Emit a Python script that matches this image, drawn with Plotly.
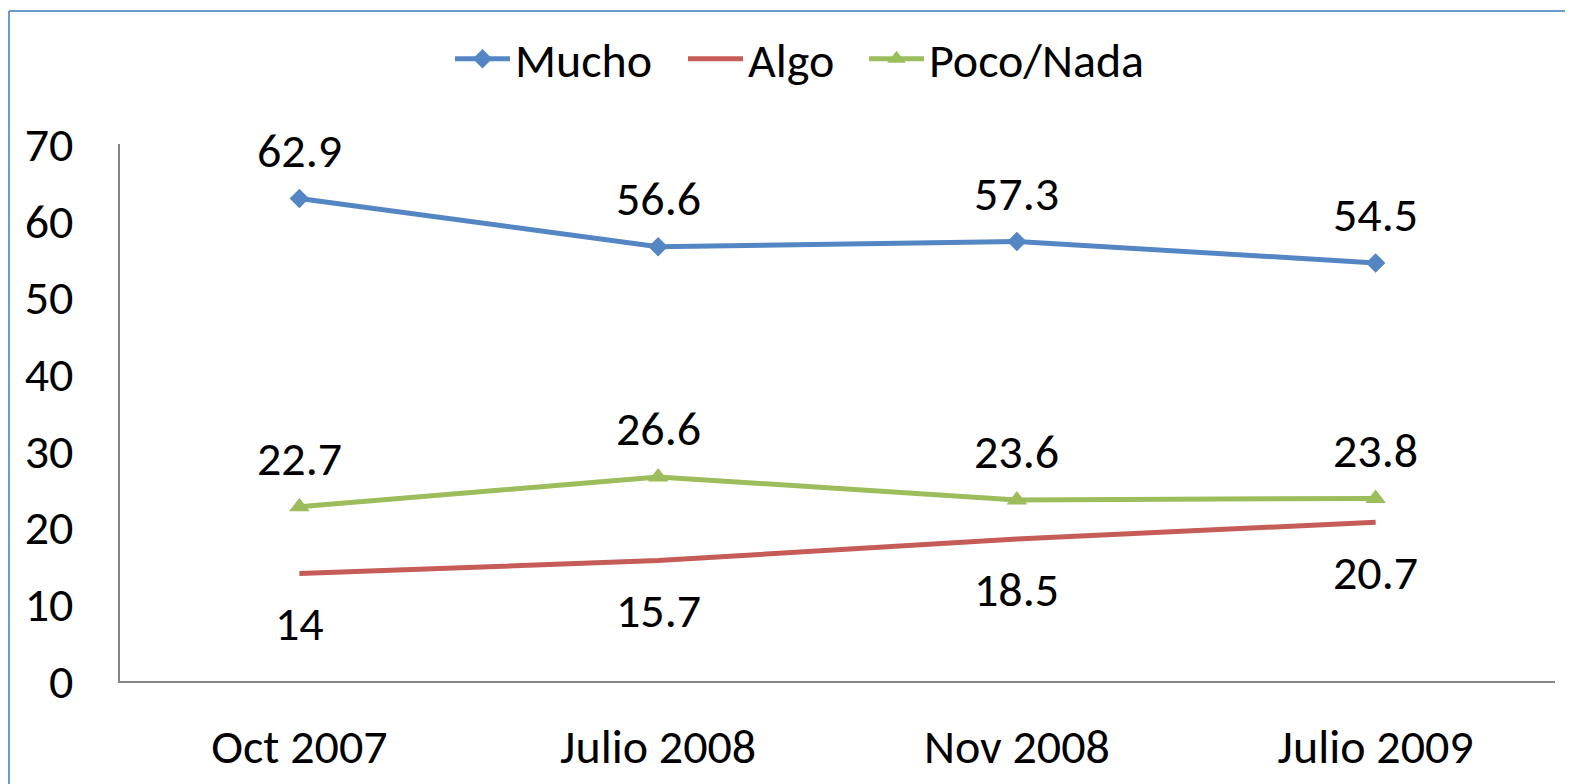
import plotly.graph_objects as go

categories = ["Oct 2007", "Julio 2008", "Nov 2008", "Julio 2009"]
mucho = [62.9, 56.6, 57.3, 54.5]
algo = [14, 15.7, 18.5, 20.7]
poco_nada = [22.7, 26.6, 23.6, 23.8]
y_ticks = [0, 10, 20, 30, 40, 50, 60, 70]

FONT = "Carlito, Lato, Calibri, sans-serif"
FS = 48
BLUE = "#5586C4"
RED = "#C65C57"
GREEN = "#9CBD5C"

# page body has an 8px margin; work in figure coordinates = screen - 8
OFF = 8
W, H = 1573 - 2 * OFF, 784 - OFF
L = 120 - OFF
T = 144 - OFF
AXIS_Y = 681 - OFF
RIGHT = 1555 - OFF
R = W - RIGHT
B = H - AXIS_Y
pw, ph = W - L - R, H - T - B

def px_x(x):
    return (x - OFF - L) / pw

def px_y(y):
    return (H - B - (y - OFF)) / ph

fig = go.Figure()
fig.add_trace(go.Scatter(x=categories, y=mucho, name="Mucho", mode="lines+markers",
                         line=dict(color=BLUE, width=5), legend="legend",
                         marker=dict(symbol="diamond", size=15, color=BLUE)))
fig.add_trace(go.Scatter(x=categories, y=algo, name="Algo", mode="lines",
                         line=dict(color=RED, width=5), legend="legend2"))
fig.add_trace(go.Scatter(x=categories, y=poco_nada, name="Poco/Nada", mode="lines+markers",
                         line=dict(color=GREEN, width=5), legend="legend3",
                         marker=dict(symbol="triangle-up", size=18, color=GREEN)))

annotations = []
for series, shift in ((mucho, 48), (poco_nada, 48), (algo, -50)):
    for c, v in zip(categories, series):
        annotations.append(dict(x=c, y=v, xref="x", yref="y", text=f"{v:g}",
                                showarrow=False, yshift=shift,
                                font=dict(family=FONT, size=FS, color="black")))

def leg(sx):
    return dict(orientation="h", xref="container", yref="container",
                x=(sx - OFF - 5) / W, xanchor="left",
                y=1 - (63 - OFF - 4) / H, yanchor="middle",
                font=dict(family=FONT, size=FS), itemwidth=55,
                bgcolor="rgba(0,0,0,0)")

border = dict(color="#6A9AD0", width=2)
fig.update_layout(
    width=W, height=H,
    margin=dict(l=L, r=R, t=T, b=B, autoexpand=False),
    paper_bgcolor="white", plot_bgcolor="white",
    font=dict(family=FONT, size=FS, color="black"),
    showlegend=True,
    legend=leg(455), legend2=leg(688), legend3=leg(869),
    annotations=annotations,
    shapes=[
        dict(type="line", xref="paper", yref="paper",
             x0=px_x(9), x1=px_x(1573), y0=px_y(11), y1=px_y(11), line=border),
        dict(type="line", xref="paper", yref="paper",
             x0=px_x(9), x1=px_x(9), y0=px_y(11), y1=px_y(784), line=border),
    ],
)
fig.update_xaxes(type="category", range=[-0.5, 3.5], showgrid=False, zeroline=False,
                 showline=True, linecolor="#868686", linewidth=2, ticks="",
                 automargin=False,
                 ticklabelstandoff=22, tickfont=dict(family=FONT, size=FS))
fig.update_yaxes(range=[0, 70], tickvals=y_ticks, showgrid=False, zeroline=False,
                 showline=True, linecolor="#868686", linewidth=2, ticks="",
                 automargin=False,
                 ticklabelstandoff=35, tickfont=dict(family=FONT, size=FS))

fig.write_html("out.html")
